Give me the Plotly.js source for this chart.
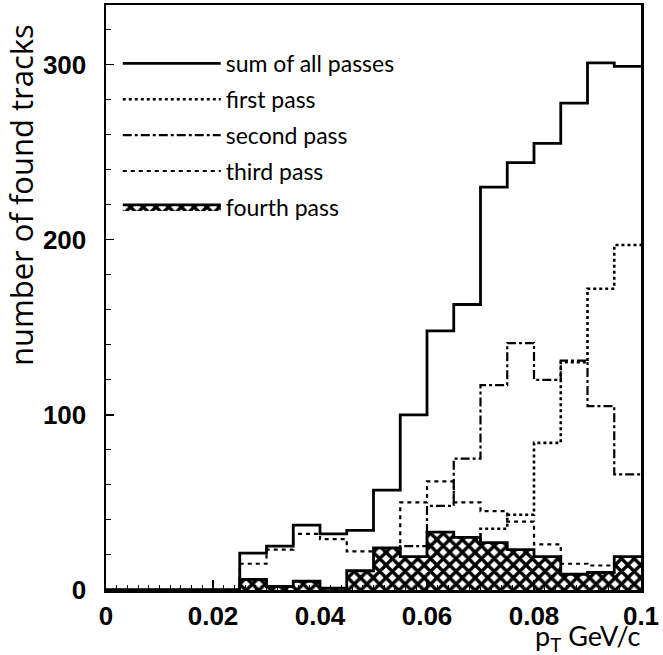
<!DOCTYPE html>
<html>
<head>
<meta charset="utf-8">
<script src="https://cdn.plot.ly/plotly-3.0.1.min.js"></script>
<style>html,body{margin:0;padding:0;background:#fff;}#chart{width:663px;height:655px;}</style>
</head>
<body>
<div id="chart"></div>
<script>
// bin edges in pT (GeV/c)
var binEdges = [0, 0.005, 0.01, 0.015, 0.02, 0.025, 0.03, 0.035, 0.04, 0.045, 0.05,
                0.055, 0.06, 0.065, 0.07, 0.075, 0.08, 0.085, 0.09, 0.095, 0.1];
// counts per bin (20 bins)
var sumAll  = [0, 0, 0, 0, 0, 21, 25, 37, 32, 34, 57, 100, 148, 163, 230, 244, 255, 278, 301, 299];
var firstP  = [0, 0, 0, 0, 0, 0, 0, 0, 0, 0, 1, 6, 5, 8, 35, 43, 84, 130, 172, 197];
var secondP = [0, 0, 0, 0, 0, 0, 0, 0, 0, 0, 8, 25, 48, 75, 117, 141, 120, 131, 105, 66];
var thirdP  = [0, 0, 0, 0, 0, 15, 23, 32, 29, 22, 23, 50, 62, 50, 45, 39, 26, 15, 14, 17];
var fourthP = [0, 0, 0, 0, 0, 6, 2, 5, 1, 11, 24, 19, 33, 30, 27, 23, 19, 9, 10, 19];
var seriesNames = ["sum of all passes", "first pass", "second pass", "third pass", "fourth pass"];
var xTicks = [0, 0.02, 0.04, 0.06, 0.08, 0.1];
var xTickText = ["0", "0.02", "0.04", "0.06", "0.08", "0.1"];
var yTicks = [0, 100, 200, 300];

function stepY(v) { return v.concat([v[v.length - 1]]); }

function stepTrace(vals, name, dash, width, grp) {
  return {
    type: "scatter", mode: "lines", x: binEdges, y: stepY(vals), name: name,
    legendgroup: grp,
    line: {shape: "hv", color: "black", width: width, dash: dash},
    hoverinfo: "skip"
  };
}

var traces = [
  stepTrace(sumAll, seriesNames[0], "solid", 2.8, "g0"),
  stepTrace(firstP, seriesNames[1], "dot", 2.6, "g1"),
  stepTrace(secondP, seriesNames[2], "dashdot", 2.2, "g2"),
  stepTrace(thirdP, seriesNames[3], "4px,4px", 2.2, "g3"),
  {
    type: "scatter", mode: "lines", x: binEdges, y: stepY(fourthP), name: seriesNames[4],
    legendgroup: "g4",
    line: {shape: "hv", color: "black", width: 2.8},
    fill: "tozeroy", fillcolor: "white",
    fillpattern: {shape: "x", fgcolor: "black", bgcolor: "white", size: 9, solidity: 0.6},
    hoverinfo: "skip"
  }
];

var tickFont = {family: "Liberation Sans, Arial, sans-serif", size: 26, color: "black", weight: "bold"};

var layout = {
  width: 663, height: 655,
  margin: {l: 106, r: 22, t: 5, b: 65},
  paper_bgcolor: "white", plot_bgcolor: "white",
  showlegend: true,
  legend: {
    x: 0.022, y: 0.937, xanchor: "left", yanchor: "top",
    font: {family: "Lato, Noto Sans, sans-serif", size: 23, color: "black"},
    bgcolor: "rgba(0,0,0,0)", borderwidth: 0, tracegroupgap: 3, itemwidth: 98,
    traceorder: "grouped"
  },
  xaxis: {
    range: [0, 0.1], tickvals: xTicks, ticktext: xTickText,
    ticks: "inside", ticklen: 10, tickwidth: 1.5, tickcolor: "black",
    minor: {dtick: 0.002, ticks: "inside", ticklen: 5, tickwidth: 1, tickcolor: "black"},
    showline: true, linecolor: "black", linewidth: 2.5, mirror: true,
    showgrid: false, zeroline: false, tickfont: tickFont, ticklabelstandoff: 1
  },
  yaxis: {
    range: [0, 334], tickvals: yTicks,
    ticks: "inside", ticklen: 8, tickwidth: 1.5, tickcolor: "black",
    minor: {dtick: 20, ticks: "inside", ticklen: 5, tickwidth: 1, tickcolor: "black"},
    showline: true, linecolor: "black", linewidth: 2.5, mirror: true,
    showgrid: false, zeroline: false, tickfont: tickFont, ticklabelstandoff: 12
  },
  annotations: [
    {text: "number of found tracks", xref: "paper", yref: "paper", x: -0.159, y: 0.675,
     xanchor: "center", yanchor: "middle", textangle: -90, showarrow: false,
     font: {family: "Open Sans, Lato, sans-serif", size: 31, color: "black"}},
    {text: "p<sub>T</sub> GeV/c", xref: "paper", yref: "paper", x: 1.004, y: -0.082,
     xanchor: "right", yanchor: "middle", showarrow: false,
     font: {family: "Lato, Noto Sans, sans-serif", size: 27, color: "black"}}
  ]
};

Plotly.newPlot("chart", traces, layout, {staticPlot: true});
</script>
</body>
</html>
